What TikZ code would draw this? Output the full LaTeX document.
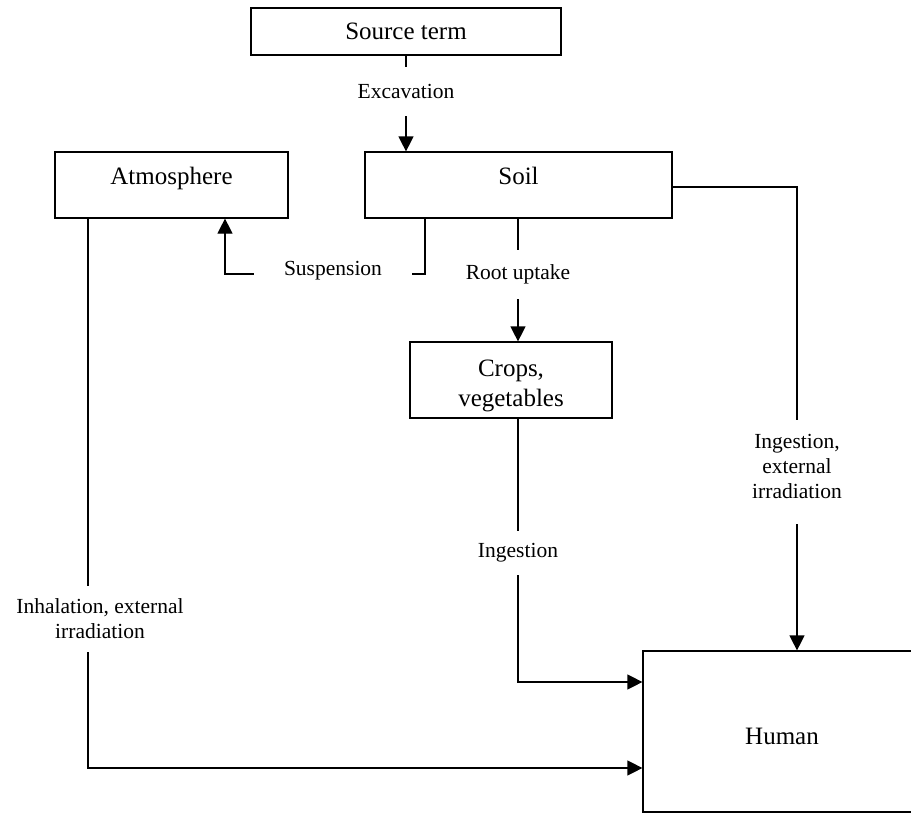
\documentclass[tikz,border=0pt]{standalone}
\usepackage{fontspec}
\setmainfont{Liberation Serif}
\usetikzlibrary{arrows.meta}
\begin{document}
\begin{tikzpicture}[x=1pt,y=-1pt,
  box/.style={draw, line width=1.2pt, inner sep=0pt, align=center,
    font=\fontsize{25}{30}\selectfont},
  lbl/.style={fill=white, inner sep=0pt, align=center,
    font=\fontsize{21.5}{25}\selectfont},
  conn/.style={line width=1.2pt},
  arr/.style={conn, -{Triangle[length=15pt,width=15pt]}}]
\useasboundingbox (0,0) rectangle (911,814);

% compartments
\node[box, minimum width=310pt, minimum height=47pt] (src) at (406,31.5) {Source term};
\node[box, minimum width=233pt, minimum height=66pt, text height=17pt, text depth=18pt] (atm) at (171.5,185) {Atmosphere};
\node[box, minimum width=307pt, minimum height=66pt, text height=17pt, text depth=18pt] (soil) at (518.5,185) {Soil};
\node[box, minimum width=202pt, minimum height=76pt] (crops) at (511,380) {\rule{0pt}{29pt}Crops,\\vegetables};
\node[box, minimum width=278pt, minimum height=161pt, text height=26pt, text depth=0pt] (hum) at (782,731.5) {Human};

% bend points of the pathways
\coordinate (cx) at (406,0);
\coordinate (ru) at (518,0);
\coordinate (sp1) at (425,274);
\coordinate (sp2) at (225,274);
\coordinate (sx) at (797,187);
\coordinate (ih) at (88,768);
\coordinate (ig) at (518,682);

% pathways
\draw[arr] (src.south -| cx) -- (soil.north -| cx);
\draw[arr] (soil.south -| sp1) |- (sp2) -- (atm.south -| sp2);
\draw[arr] (soil.south -| ru) -- (crops.north -| ru);
\draw[arr] (crops.south -| ru) |- (hum.west |- ig);
\draw[arr] (soil.east |- sx) -| (hum.north -| sx);
\draw[arr] (atm.south -| ih) |- (hum.west |- ih);

% pathway labels
\node[lbl, minimum height=49pt] (exc) at (406,91) {Excavation};
\node[lbl, minimum width=158pt, minimum height=24pt] (susp) at (333,271) {Suspension};
\node[lbl, minimum height=49pt] (root) at (518,274) {Root uptake};
\node[lbl, minimum height=44pt] (ing) at (518,553) {Ingestion};
\node[lbl, minimum height=104pt, text depth=12pt] (ingx) at (797,472) {Ingestion,\\external\\irradiation};
\node[lbl, minimum height=66pt] (inh) at (100,619) {Inhalation, external\\irradiation};
\end{tikzpicture}
\end{document}
